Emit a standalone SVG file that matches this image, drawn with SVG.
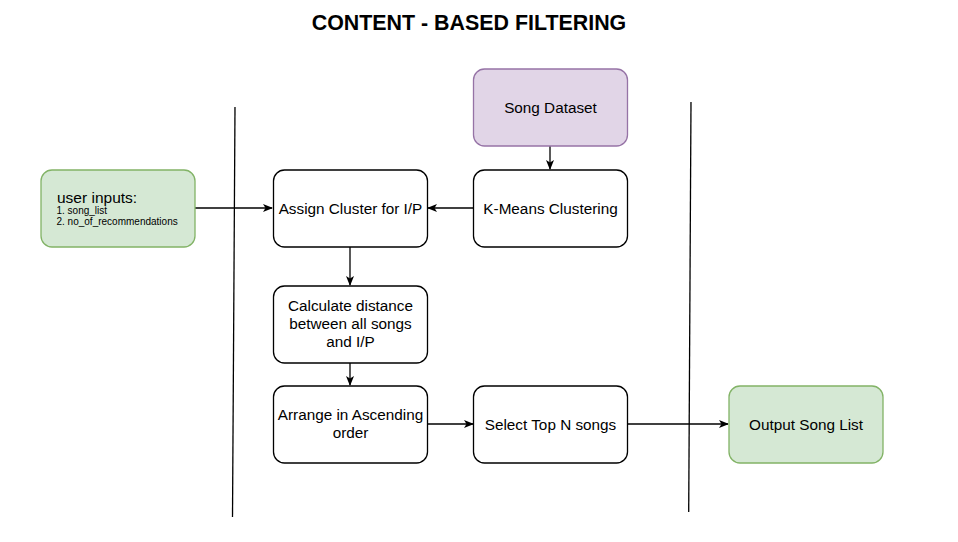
<svg xmlns="http://www.w3.org/2000/svg" width="958" height="542" viewBox="0 0 958 542">
<defs>
<style>
.box{fill:#ffffff;stroke:#000000;stroke-width:1.3}
.green{fill:#d5e8d4;stroke:#82b366;stroke-width:1.3}
.purple{fill:#e1d5e7;stroke:#9673a6;stroke-width:1.3}
.t{font-family:"Liberation Sans",Arial,sans-serif;font-size:15.3px;fill:#000;text-anchor:middle}
.s{font-family:"Liberation Sans",Arial,sans-serif;font-size:10px;fill:#000}
.edge{stroke:#000;stroke-width:1.3;fill:none}
.sep{stroke:#000;stroke-width:1.3;fill:none}
</style>
<marker id="arr" viewBox="0 0 10 10" refX="9" refY="5" markerWidth="10" markerHeight="10" markerUnits="userSpaceOnUse" orient="auto">
<path d="M0,1 L10,5 L0,9 L2.5,5 Z" fill="#000"/>
</marker>
</defs>
<rect width="958" height="542" fill="#ffffff"/>
<text x="469" y="30" font-family="Liberation Sans,Arial,sans-serif" font-size="21.4" font-weight="bold" text-anchor="middle" fill="#000">CONTENT - BASED FILTERING</text>
<g id="separators">
<line class="sep" x1="235" y1="107" x2="232.5" y2="517"/>
<line class="sep" x1="691" y1="102" x2="688.7" y2="512"/>
</g>
<g id="connectors">
<line class="edge" x1="195" y1="208" x2="272" y2="208" marker-end="url(#arr)"/>
<line class="edge" x1="474" y1="208" x2="428" y2="208" marker-end="url(#arr)"/>
<line class="edge" x1="550" y1="146" x2="550" y2="169" marker-end="url(#arr)"/>
<line class="edge" x1="350" y1="247" x2="350" y2="285" marker-end="url(#arr)"/>
<line class="edge" x1="350" y1="363" x2="350" y2="385" marker-end="url(#arr)"/>
<line class="edge" x1="427" y1="424" x2="473" y2="424" marker-end="url(#arr)"/>
<line class="edge" x1="628" y1="424" x2="728" y2="424" marker-end="url(#arr)"/>
</g>
<g id="user-inputs">
<rect class="green" x="41" y="170" width="154" height="77" rx="11"/>
<text x="57" y="203.3" font-family="Liberation Sans,Arial,sans-serif" font-size="15.5" fill="#000">user inputs:</text>
<text class="s" x="56.5" y="214.3">1. song_list</text>
<text class="s" x="56.5" y="224.6">2. no_of_recommendations</text>
</g>
<g id="assign-cluster">
<rect class="box" x="273.5" y="170" width="154" height="77" rx="11"/>
<text class="t" x="350.5" y="213.5">Assign Cluster for I/P</text>
</g>
<g id="kmeans">
<rect class="box" x="473.5" y="170" width="154" height="77" rx="11"/>
<text class="t" x="550.5" y="213.5">K-Means Clustering</text>
</g>
<g id="song-dataset">
<rect class="purple" x="473.5" y="69" width="154" height="77" rx="11"/>
<text class="t" x="550.5" y="112.5">Song Dataset</text>
</g>
<g id="calculate">
<rect class="box" x="273.5" y="286" width="154" height="77" rx="11"/>
<text class="t" x="350.5" y="311">Calculate distance</text>
<text class="t" x="350.5" y="329">between all songs</text>
<text class="t" x="350.5" y="347">and I/P</text>
</g>
<g id="arrange">
<rect class="box" x="273.5" y="386" width="154" height="77" rx="11"/>
<text class="t" x="350.5" y="420">Arrange in Ascending</text>
<text class="t" x="350.5" y="438">order</text>
</g>
<g id="select-top">
<rect class="box" x="473.5" y="386" width="154" height="77" rx="11"/>
<text class="t" x="550.5" y="429.5">Select Top N songs</text>
</g>
<g id="output">
<rect class="green" x="729" y="386" width="154" height="77" rx="11"/>
<text class="t" x="806" y="429.5">Output Song List</text>
</g>
</svg>
